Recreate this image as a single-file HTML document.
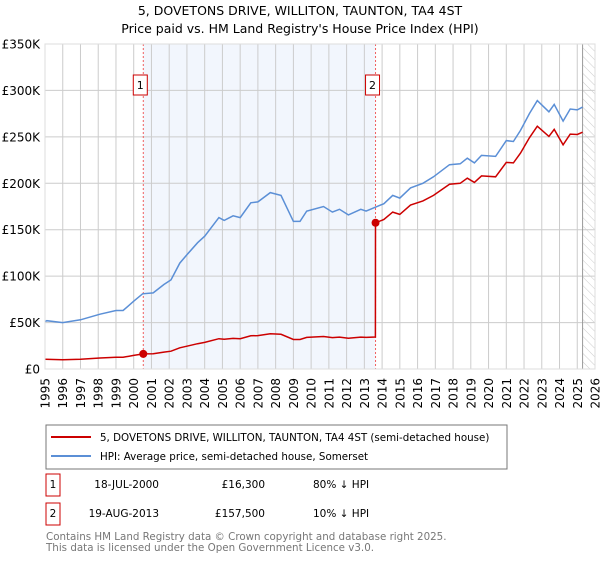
<!DOCTYPE html>
<html><head><meta charset="utf-8"><style>
body{margin:0;background:#fff;font-family:"DejaVu Sans","Liberation Sans",sans-serif;}
svg text{font-family:"DejaVu Sans","Liberation Sans",sans-serif;}
</style></head><body>
<svg id="chart" width="600" height="560" viewBox="0 0 600 560">
<defs><pattern id="hatch" width="6" height="6" patternUnits="userSpaceOnUse" patternTransform="rotate(-45)"><line x1="0" y1="0" x2="0" y2="6" stroke="#ccc" stroke-width="1"/></pattern></defs>
<text x="300" y="15" text-anchor="middle" font-size="12.5">5, DOVETONS DRIVE, WILLITON, TAUNTON, TA4 4ST</text>
<text x="300" y="33" text-anchor="middle" font-size="12.5">Price paid vs. HM Land Registry's House Price Index (HPI)</text>
<g id="plot"></g>
<g>
<rect x="46" y="425" width="461" height="44" fill="#fff" stroke="#777"/>
<line x1="51" y1="437" x2="91" y2="437" stroke="#cc0000" stroke-width="2"/>
<text x="100" y="441" font-size="10.3">5, DOVETONS DRIVE, WILLITON, TAUNTON, TA4 4ST (semi-detached house)</text>
<line x1="51" y1="456" x2="91" y2="456" stroke="#5b8fd6" stroke-width="2"/>
<text x="100" y="460" font-size="10.3">HPI: Average price, semi-detached house, Somerset</text>
</g>
<g font-size="10.5">
<rect x="46" y="474" width="14" height="22" fill="#fff" stroke="#cc0000"/>
<text x="53" y="488" text-anchor="middle">1</text>
<text x="159" y="488" text-anchor="end">18-JUL-2000</text>
<text x="265" y="488" text-anchor="end">£16,300</text>
<text x="313" y="488">80% ↓ HPI</text>
<rect x="46" y="503" width="14" height="22" fill="#fff" stroke="#cc0000"/>
<text x="53" y="517" text-anchor="middle">2</text>
<text x="159" y="517" text-anchor="end">19-AUG-2013</text>
<text x="265" y="517" text-anchor="end">£157,500</text>
<text x="313" y="517">10% ↓ HPI</text>
</g>
<text x="46" y="540" font-size="10.3" fill="#777">Contains HM Land Registry data © Crown copyright and database right 2025.</text>
<text x="46" y="551" font-size="10.3" fill="#777">This data is licensed under the Open Government Licence v3.0.</text>
</svg>
<script>
const hpiYears=[1995.0,1995.1,1996.0,1997.0,1998.1,1999.0,1999.4,2000.0,2000.5,2001.1,2001.7,2002.1,2002.6,2003.0,2003.6,2004.0,2004.8,2005.1,2005.6,2006.0,2006.6,2007.0,2007.7,2008.3,2009.0,2009.37,2009.75,2010.7,2011.2,2011.6,2012.1,2012.8,2013.1,2014.1,2014.6,2015.0,2015.6,2016.3,2016.9,2017.8,2018.4,2018.8,2019.2,2019.6,2020.4,2021.0,2021.4,2021.8,2022.3,2022.75,2023.4,2023.7,2024.2,2024.6,2025.0,2025.3];
const hpiValues=[51,52,50,53,59,63,63,73,81,82,91,96,114,123,136,143,163,160,165,163,179,180,190,187,159,159,170,175,169,172,166,172,170,178,187,184,195,200,207,220,221,227,222,230,229,246,245,257,275,289,277,285,267,280,279,282];
const redYears=[1995.0,1996.0,1997.0,1998.1,1999.0,1999.4,2000.0,2000.54,2001.1,2001.7,2002.1,2002.6,2003.0,2003.6,2004.0,2004.8,2005.1,2005.6,2006.0,2006.6,2007.0,2007.7,2008.3,2009.0,2009.37,2009.75,2010.7,2011.2,2011.6,2012.1,2012.8,2013.1,2013.62,2013.63,2014.1,2014.6,2015.0,2015.6,2016.3,2016.9,2017.8,2018.4,2018.8,2019.2,2019.6,2020.4,2021.0,2021.4,2021.8,2022.3,2022.75,2023.4,2023.7,2024.2,2024.6,2025.0,2025.3];
const redValues=[10.4,10,10.6,11.8,12.6,12.6,14.6,16.3,16.4,18.2,19.2,22.8,24.6,27.2,28.6,32.6,32,33,32.6,35.8,36,38,37.4,31.8,31.8,34,35,33.8,34.4,33.2,34.4,34,34.5,157.5,161,169,166.5,176.5,181,187,199,200,205.5,201,208,207,222.5,222,232.5,249,261.5,250.5,258,241.5,253,252.5,255];
const saleYears=[2000.54,2013.63];
const saleValues=[16.3,157.5];
const saleLabels=["1","2"];
const yTicks=[0,50,100,150,200,250,300,350];
const yTickLabels=["£0","£50K","£100K","£150K","£200K","£250K","£300K","£350K"];
const xTicks=[];for(let y=1995;y<=2026;y++)xTicks.push(y);

const L=45,R=595,T=44,B=369,Y0=1995,Y1=2026,VMAX=350;
const xs=y=>L+(y-Y0)/(Y1-Y0)*(R-L);
const ys=v=>B-v/VMAX*(B-T);
const NS='http://www.w3.org/2000/svg';
const plot=document.getElementById('plot');
function mk(tag,attrs,parent){const e=document.createElementNS(NS,tag);for(const k in attrs)e.setAttribute(k,attrs[k]);(parent||plot).appendChild(e);return e;}

let e=mk('rect',{x:xs(saleYears[0]),y:T,width:xs(saleYears[1])-xs(saleYears[0]),height:B-T,fill:'#f2f6fd'});


const endX=xs(2025.3);
e=mk('rect',{x:endX,y:T,width:R-endX,height:B-T,fill:'url(#hatch)'});


xTicks.forEach(y=>{
  e=mk('line',{x1:xs(y),x2:xs(y),y1:T,y2:B,stroke:'#ccc','stroke-width':1});
  
  
  e=mk('text',{x:0,y:0,'font-size':12,'text-anchor':'end',transform:`translate(${xs(y)+4.5},378) rotate(-90)`});
  e.textContent=y;
  
  
});
yTicks.forEach((v,i)=>{
  e=mk('line',{x1:L,x2:R,y1:ys(v),y2:ys(v),stroke:'#ccc','stroke-width':1});
  
  
  e=mk('text',{x:40,y:ys(v)+4.5,'font-size':12,'text-anchor':'end'});
  e.textContent=yTickLabels[i];
  
  
});
e=mk('line',{x1:endX,x2:endX,y1:T,y2:B,stroke:'#999','stroke-width':1});


saleYears.forEach((y,i)=>{
  e=mk('line',{x1:xs(y),x2:xs(y),y1:T,y2:B,stroke:'#f06060','stroke-width':1,'stroke-dasharray':'2,2'});
  
  
  e=mk('rect',{x:xs(y)-10,y:75,width:14,height:20,fill:'#fff',stroke:'#cc0000'});
  
  
  e=mk('text',{x:xs(y)-3,y:89,'font-size':11,'text-anchor':'middle'});
  e.textContent=saleLabels[i];
  
  
});
e=mk('path',{d:hpiYears.map((y,i)=>(i?'L':'M')+xs(y).toFixed(1)+','+ys(hpiValues[i]).toFixed(1)).join(''),fill:'none',stroke:'#5b8fd6','stroke-width':1.5});


e=mk('path',{d:redYears.map((y,i)=>(i?'L':'M')+xs(y).toFixed(1)+','+ys(redValues[i]).toFixed(1)).join(''),fill:'none',stroke:'#cc0000','stroke-width':1.5});


saleYears.forEach((y,i)=>{
  e=mk('circle',{cx:xs(y),cy:ys(saleValues[i]),r:4,fill:'#cc0000'});
  
  
});
e=mk('rect',{x:L,y:T,width:R-L,height:B-T,fill:'none',stroke:'#ddd'});


</script>
</body></html>
